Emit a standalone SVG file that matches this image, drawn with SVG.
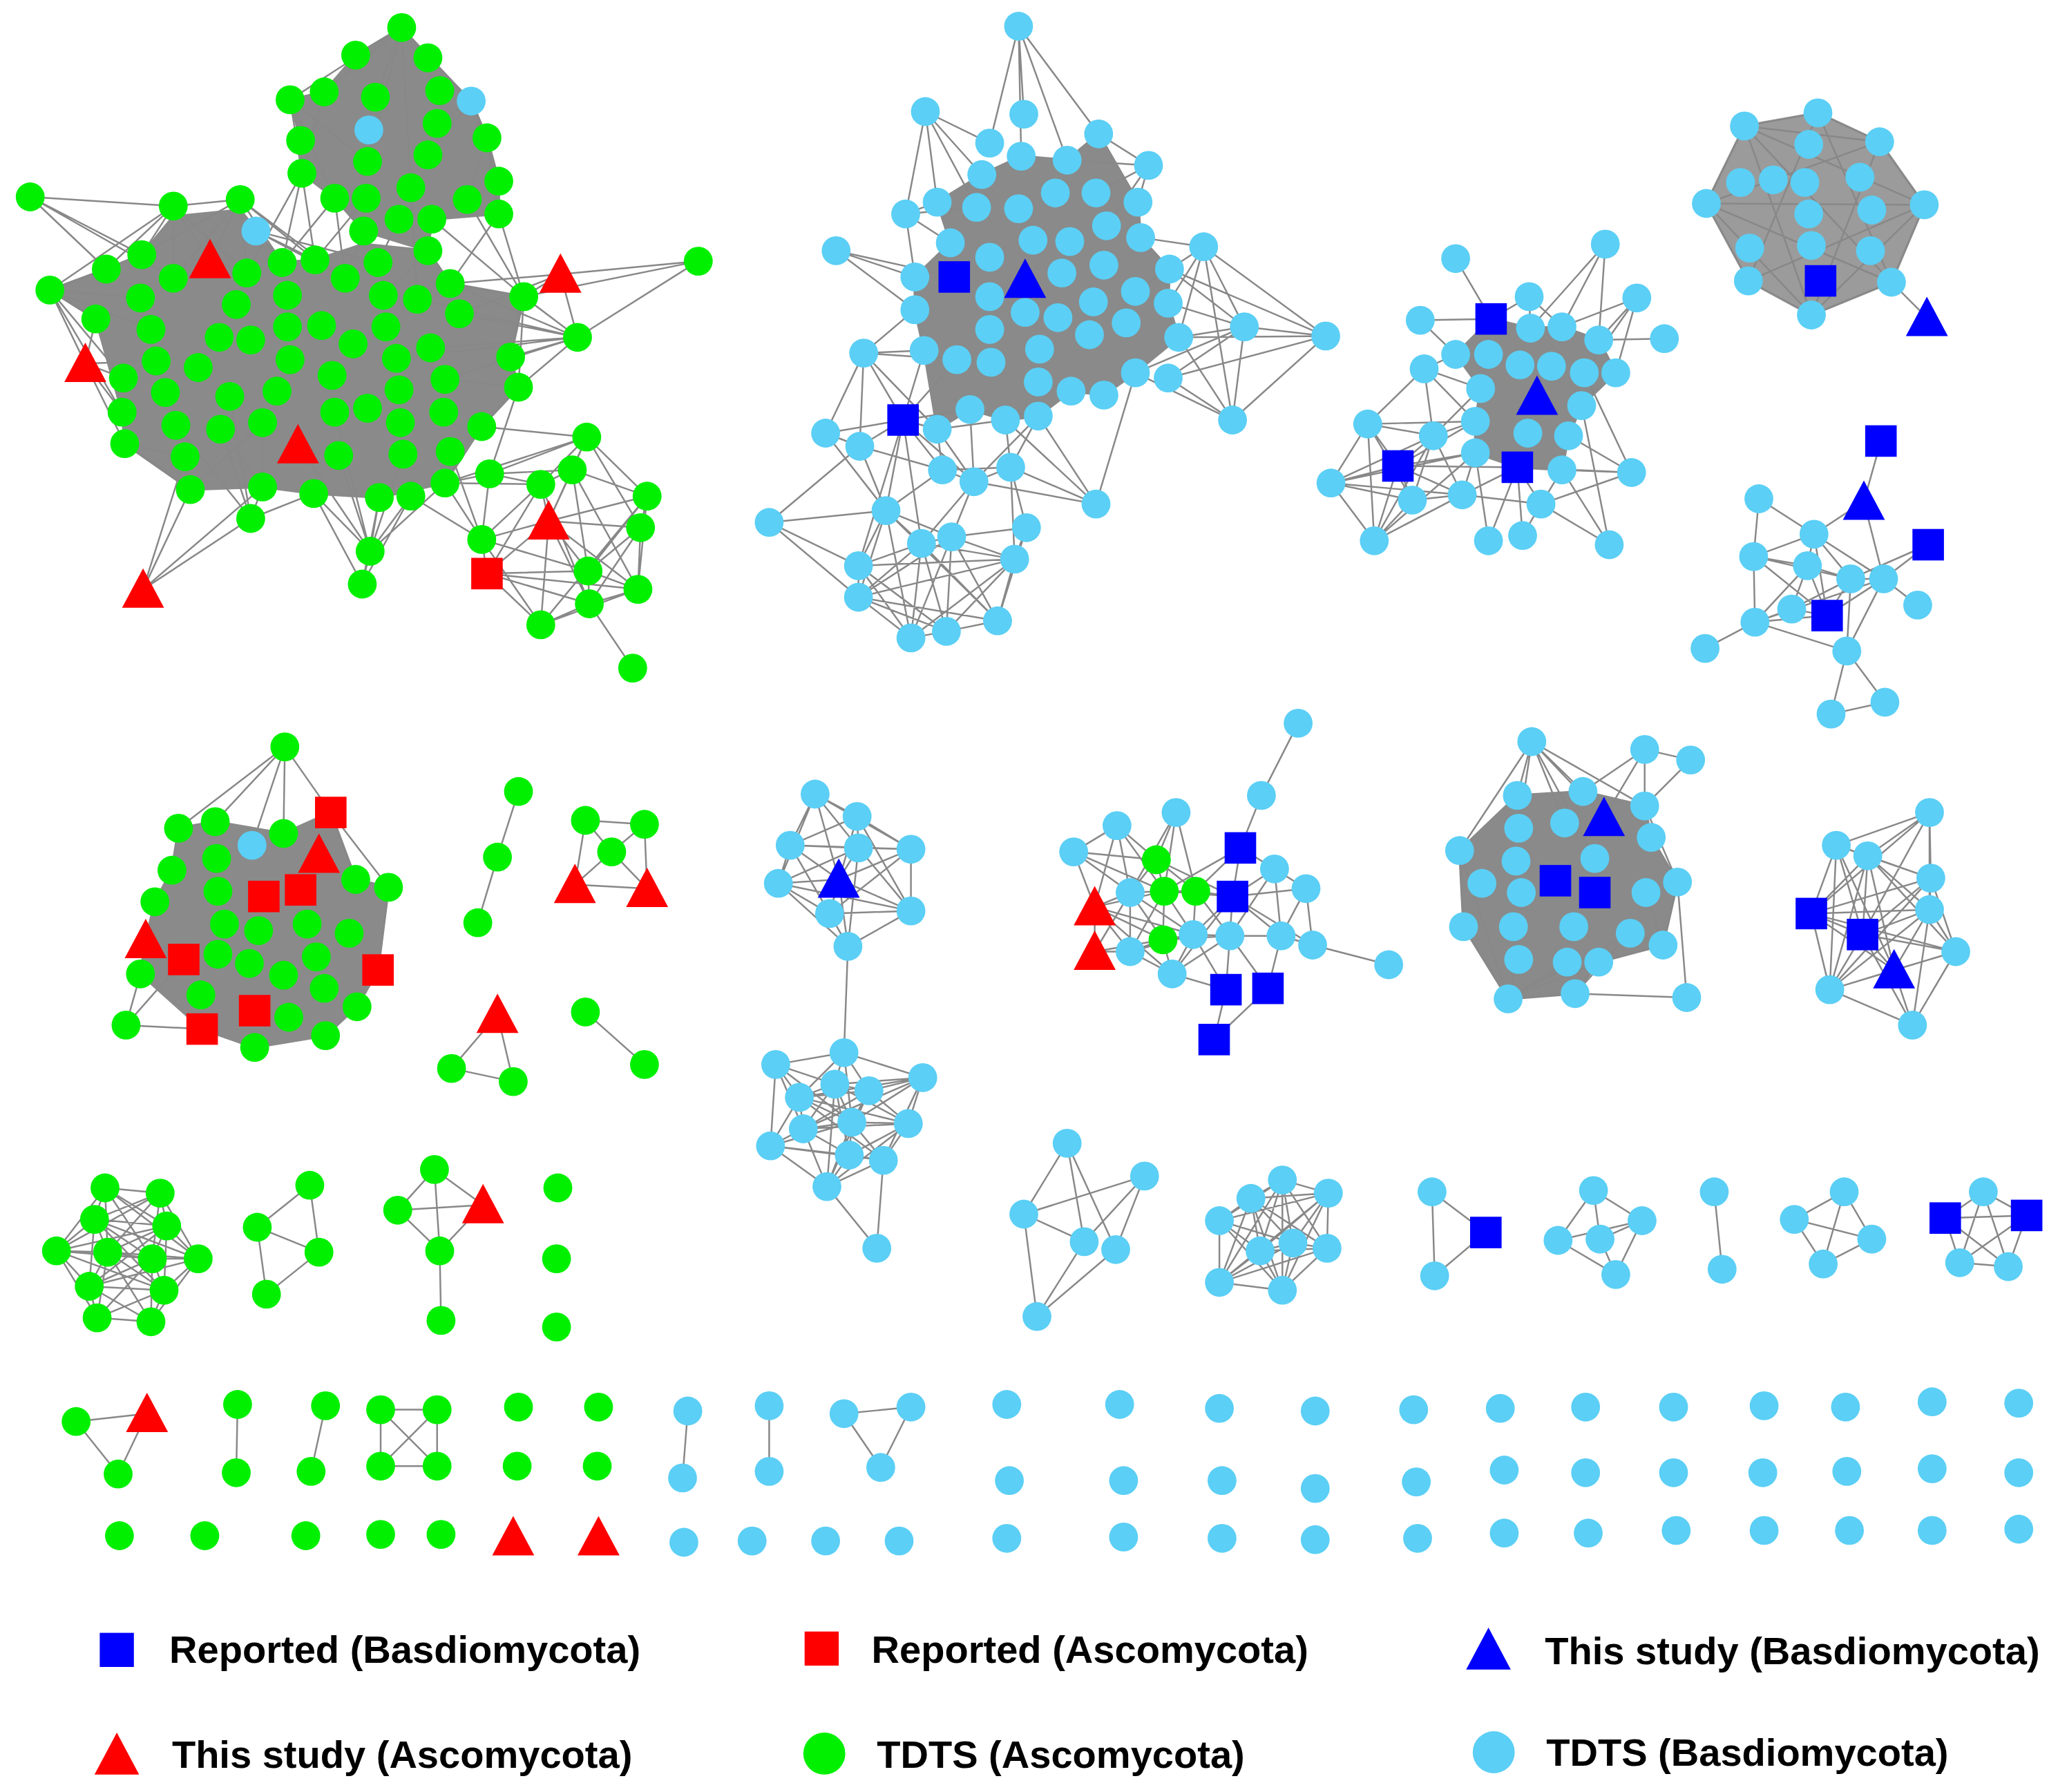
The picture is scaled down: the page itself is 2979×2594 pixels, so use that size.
<svg xmlns="http://www.w3.org/2000/svg" width="2979" height="2594" viewBox="0 0 2979 2594">
<style>
.e{stroke:#888;stroke-width:1.3;fill:none}
.m{fill:#8a8a8a;stroke:#8a8a8a;stroke-width:2;stroke-linejoin:round}
.g{fill:#00f000}
.b{fill:#5bcff5}
.r{fill:#f00}
.u{fill:#00f}
.t{font-family:"Liberation Sans",Arial,sans-serif;font-weight:bold;font-size:29.5px;fill:#000}
</style>
<defs>
<rect id="S" x="-12" y="-12" width="24" height="24"/>
<polygon id="T" points="0,-16 -16,14 16,14"/>
</defs>
<rect width="2979" height="2594" fill="#fff"/>
<g transform="scale(1.9)">
<g id="connectors">
<polygon class="m" points="221,76 247,70 271,42 306,21 326,44 359,77 371,105 380,138 380,163 329,167 326,191 277,176 255,151 230,132 229,107"/>
<polygon class="m" points="38,221 81,205 108,194 132,165 183,160 215,200 240,198 277,186 326,191 343,216 399,226 389,272 395,295 367,325 339,368 289,379 239,376 200,371 145,373 95,338 93,314 73,243"/>
<polygon class="m" points="714,154 748,133 778,119 813,122 837,102 867,154 869,181 891,205 890,231 898,257 865,284 841,301 816,298 791,317 766,320 739,312 714,327 704,267 697,236 697,211 724,185"/>
<polygon class="m" points="1109,270 1136,243 1166,250 1190,249 1218,259 1231,284 1205,309 1195,332 1190,358 1156,356 1124,345 1124,321 1128,296"/>
<polygon class="m" opacity="0.85" points="1329,96 1385,86 1432,108 1466,156 1441,215 1380,240 1332,214 1300,155"/>
<polygon class="m" points="136,631 164,626 216,635 252,619 271,670 296,676 288,739 272,767 248,789 194,798 154,784 107,742 111,716 118,687 131,663"/>
<polygon class="m" points="1156,606 1206,603 1253,614 1258,638 1278,672 1267,720 1218,733 1200,757 1149,761 1115,706 1112,648"/>
<path class="e" d="M306 21L271 42M306 21L326 44M306 21L247 70M306 21L286 74M306 21L335 69M306 21L221 76M306 21L280 123M306 21L313 143M306 21L359 77M359 77L371 105M359 77L380 138M359 77L333 94M359 77L326 118M371 105L380 138M371 105L380 163M371 105L356 152M221 76L229 107M221 76L230 132M221 76L255 151M221 76L280 123M230 132L240 198M230 132L215 200M255 151L215 200M255 151L263 212M277 176L263 212M277 176L288 200M304 167L288 200M326 191L343 216M329 167L399 226M380 163L399 226M356 152L399 226M326 191L292 225M230 132L188 208M247 70L230 132M279 151L240 198M313 143L318 228M380 163L343 216"/>
<path class="e" d="M23 150L132 157M23 150L108 194M23 150L81 205M23 150L132 212M132 157L38 221M132 157L81 205M132 157L160 198M132 157L108 194M132 157L183 152M132 157L132 212M132 157L188 208M183 152L160 198M183 152L188 208M183 152L215 200M183 152L240 198M183 152L132 212M183 152L108 194M183 152L263 212M195 176L240 198M195 176L215 200M195 176L263 212M195 176L288 200M38 221L81 205M38 221L73 243M38 221L107 227M38 221L65 277M38 221L94 288M38 221L93 314M38 221L115 251M65 277L94 288M65 277L93 314M65 277L73 243M65 277L95 338M65 277L119 275M532 199L427 209M532 199L440 257M532 199L399 226M427 209L399 226M427 209L440 257M427 209L343 216M427 209L350 239M440 257L399 226M440 257L389 272M440 257L395 295M440 257L328 265M440 257L350 239M440 257L343 216M440 257L339 289M440 257L318 228M440 257L302 273M399 226L343 216M399 226L389 272M399 226L395 295M389 272L339 289M395 295L339 289M395 295L367 325M109 449L145 373M109 449L191 395M109 449L200 371M109 449L141 348M191 395L200 371M191 395L175 302M191 395L168 327M191 395L134 324M191 395L239 376M200 371L168 327M200 371L200 322M282 420L239 376M282 420L255 314M282 420L289 379M282 420L313 378M282 420L258 347M282 420L227 339M282 420L307 346M282 420L339 368M276 445L282 420M276 445L239 376M276 445L313 378M276 445L289 379M145 373L141 348M145 373L95 338M145 373L200 322M95 338L141 348"/>
<path class="e" d="M447 333L436 358M447 333L493 378M447 333L412 369M447 333L373 361M447 333L367 325M447 333L339 368M447 333L418 397M447 333L488 402M436 358L412 369M436 358L493 378M436 358L418 397M436 358L448 435M436 358L486 449M412 369L418 397M412 369L367 411M412 369L371 437M412 369L449 460M493 378L488 402M493 378L418 397M493 378L448 435M493 378L486 449M493 378L412 476M418 397L367 411M418 397L371 437M418 397L448 435M418 397L449 460M418 397L412 476M418 397L488 402M418 397L486 449M367 411L371 437M367 411L448 435M367 411L412 476M367 411L339 368M367 411L373 361M371 437L448 435M371 437L412 476M371 437L449 460M371 437L486 449M448 435L486 449M448 435L449 460M448 435L488 402M488 402L486 449M488 402L449 460M486 449L449 460M449 460L412 476M449 460L482 509M412 476L486 449M373 361L412 369M373 361L436 358M343 344L367 411M313 378L367 411M339 368L412 369M373 361L395 295M373 361L339 368"/>
<path class="e" d="M776 20L754 109M776 20L780 87M776 20L813 122M776 20L837 102M776 20L778 119M705 85L754 109M705 85L690 163M705 85L714 154M705 85L748 133M705 85L744 158M637 191L697 211M637 191L727 211M637 191L697 236M690 163L714 154M690 163L724 185M690 163L697 211M690 163L744 158M917 188L869 181M917 188L891 205M917 188L890 231M917 188L948 249M917 188L1010 256M917 188L939 320M917 188L865 222M917 188L898 257M875 126L867 154M875 126L837 102M875 126L843 172M875 126L813 122M875 126L835 147M948 249L890 231M948 249L898 257M948 249L1010 256M948 249L939 320M948 249L891 205M948 249L890 288M948 249L865 284M1010 256L898 257M1010 256L890 288M1010 256L939 320M1010 256L891 205M939 320L890 288M939 320L898 257M939 320L865 284M835 384L865 284M835 384L766 320M835 384L770 356M835 384L742 367M835 384L791 317"/>
<path class="e" d="M658 269L688 320M658 269L629 330M658 269L655 340M658 269L704 267M658 269L697 236M658 269L714 327M658 269L729 274M629 330L688 320M629 330L655 340M629 330L675 389M688 320L655 340M688 320L714 327M688 320L739 312M688 320L718 358M688 320L742 367M688 320L675 389M688 320L702 414M688 320L654 431M688 320L729 274M688 320L704 267M655 340L586 398M655 340L675 389M655 340L718 358M586 398L675 389M586 398L654 431M586 398L654 455M714 327L718 358M714 327L742 367M739 312L742 367M766 320L770 356M791 317L770 356M791 317L742 367M718 358L742 367M718 358L675 389M742 367L770 356M742 367L725 409M742 367L702 414M770 356L782 402M770 356L773 426M675 389L702 414M675 389L654 431M675 389L654 455M675 389L725 409M675 389L760 473M675 389L694 486M702 414L725 409M702 414L654 431M702 414L654 455M702 414L694 486M702 414L721 481M702 414L760 473M702 414L773 426M725 409L773 426M725 409L782 402M725 409L760 473M725 409L721 481M725 409L694 486M725 409L654 455M654 431L654 455M654 431L694 486M654 431L721 481M654 431L773 426M654 455L694 486M654 455L721 481M654 455L760 473M773 426L760 473M773 426L721 481M773 426L694 486M782 402L773 426M782 402L760 473M694 486L721 481M721 481L760 473M654 455L773 426M714 327L766 320M739 312L791 317M718 358L770 356"/>
<path class="e" d="M1109 197L1136 243M1082 244L1109 270M1082 244L1136 243M1223 186L1166 250M1223 186L1190 249M1223 186L1218 259M1247 227L1190 249M1247 227L1218 259M1247 227L1207 284M1247 227L1231 284M1268 258L1218 259M1165 226L1166 250M1165 226L1136 243M1165 226L1190 249M1085 281L1109 270M1085 281L1128 296M1085 281L1092 332M1085 281L1124 321M1042 323L1092 332M1042 323L1065 355M1042 323L1014 368M1042 323L1047 412M1042 323L1085 281M1042 323L1124 321M1042 323L1076 381M1014 368L1065 355M1014 368L1047 412M1014 368L1076 381M1014 368L1114 377M1014 368L1092 332M1014 368L1124 345M1065 355L1092 332M1065 355L1076 381M1065 355L1047 412M1065 355L1114 377M1065 355L1124 345M1065 355L1156 356M1065 355L1124 321M1047 412L1076 381M1047 412L1114 377M1047 412L1092 332M1047 412L1124 345M1076 381L1114 377M1076 381L1092 332M1114 377L1124 345M1114 377L1156 356M1114 377L1174 384M1114 377L1092 332M1134 412L1156 356M1134 412L1124 345M1160 408L1156 356M1160 408L1174 384M1174 384L1156 356M1174 384L1190 358M1174 384L1243 360M1174 384L1226 415M1226 415L1190 358M1226 415L1205 309M1243 360L1190 358M1243 360L1195 332M1243 360L1156 356M1243 360L1207 284M1218 259L1231 284M1092 332L1124 321M1092 332L1128 296"/>
<path class="e" d="M1329 96L1385 86M1385 86L1432 108M1432 108L1466 156M1466 156L1441 215M1441 215L1380 240M1380 240L1332 214M1332 214L1300 155M1300 155L1329 96M1329 96L1432 108M1329 96L1441 215M1385 86L1332 214M1385 86L1441 215M1466 156L1300 155M1466 156L1332 214M1466 156L1329 96M1300 155L1441 215M1300 155L1432 108M1380 240L1329 96M1380 240L1432 108M1380 240L1466 156M1380 240L1300 155M1441 215L1468 242"/>
<path class="e" d="M1433 336L1420 382M1420 382L1382 407M1420 382L1435 441M1340 380L1382 407M1340 380L1336 424M1382 407L1336 424M1382 407L1377 431M1382 407L1410 441M1382 407L1435 441M1382 407L1392 469M1469 415L1435 441M1469 415L1410 441M1336 424L1337 474M1336 424L1377 431M1336 424L1392 469M1336 424L1410 441M1377 431L1337 474M1377 431L1392 469M1377 431L1410 441M1377 431L1365 464M1410 441L1435 441M1410 441L1392 469M1410 441L1407 496M1410 441L1365 464M1435 441L1461 461M1435 441L1392 469M1435 441L1407 496M1435 441L1337 474M1365 464L1337 474M1365 464L1392 469M1337 474L1299 494M1337 474L1407 496M1337 474L1392 469M1407 496L1395 544M1407 496L1436 535M1395 544L1436 535"/>
<path class="e" d="M217 569L164 626M217 569L192 644M217 569L216 635M217 569L252 619M217 569L136 631M252 619L296 676M252 619L271 670M96 781L107 742M96 781L154 784M96 781L140 731M136 631L164 626M296 676L288 739M271 670L296 676"/>
<path class="e" d="M395 603L379 653M379 653L364 703M446 625L491 628M446 625L466 649M491 628L466 649M466 649L438 674M466 649L493 677M446 625L438 674M491 628L493 677M438 674L493 677M379 773L344 814M379 773L391 824M344 814L391 824M446 771L491 811"/>
<path class="e" d="M621 605L653 622M621 605L602 644M621 605L654 646M621 605L639 670M621 605L694 647M621 605L593 673M653 622L694 647M653 622L602 644M653 622L654 646M653 622L694 694M653 622L632 696M602 644L654 646M602 644L593 673M602 644L639 670M602 644L694 647M602 644L632 696M654 646L694 647M654 646L593 673M654 646L694 694M654 646L639 670M654 646L646 721M694 647L694 694M694 647L639 670M694 647L632 696M593 673L639 670M593 673L632 696M593 673L646 721M593 673L694 694M639 670L632 696M639 670L694 694M639 670L646 721M632 696L646 721M632 696L694 694M694 694L646 721M646 721L643 802"/>
<path class="e" d="M643 802L591 811M643 802L703 821M643 802L636 826M643 802L662 831M643 802L609 836M643 802L649 855M591 811L609 836M591 811L612 860M591 811L587 873M591 811L636 826M591 811L649 855M703 821L662 831M703 821L692 856M703 821L673 884M703 821L609 836M703 821L636 826M703 821L649 855M703 821L612 860M636 826L662 831M636 826L609 836M636 826L612 860M636 826L649 855M636 826L692 856M636 826L647 880M636 826L630 904M662 831L609 836M662 831L649 855M662 831L692 856M662 831L612 860M662 831L630 904M609 836L612 860M609 836L587 873M609 836L649 855M609 836L692 856M609 836L673 884M612 860L649 855M612 860L587 873M612 860L647 880M612 860L630 904M612 860L692 856M649 855L692 856M649 855L647 880M649 855L673 884M649 855L630 904M649 855L587 873M692 856L673 884M692 856L647 880M692 856L630 904M587 873L647 880M587 873L630 904M587 873L673 884M647 880L673 884M647 880L630 904M673 884L630 904M673 884L668 951M630 904L668 951"/>
<path class="e" d="M989 551L961 606M961 606L945 646M851 629L818 649M851 629L881 655M851 629L861 680M851 629L887 679M851 629L834 691M896 619L881 655M896 619L887 679M896 619L911 679M896 619L861 680M818 649L881 655M818 649L861 680M818 649L834 691M818 649L887 679M945 646L939 683M945 646L911 679M945 646L887 679M945 646L971 662M881 655L887 679M881 655L911 679M881 655L861 680M881 655L939 683M971 662L995 677M971 662L939 683M971 662L937 713M971 662L976 713M995 677L939 683M995 677L976 713M995 677L1000 720M861 680L887 679M861 680L834 691M861 680L834 725M861 680L909 712M861 680L861 725M861 680L886 716M887 679L911 679M887 679L909 712M887 679L939 683M887 679L886 716M887 679L834 691M887 679L861 725M911 679L939 683M911 679L909 712M911 679L937 713M939 683L937 713M939 683L909 712M939 683L976 713M939 683L893 742M939 683L1000 720M834 691L834 725M834 691L886 716M834 691L909 712M834 691L861 725M834 691L893 742M834 725L861 725M834 725L886 716M834 725L909 712M861 725L886 716M861 725L893 742M861 725L909 712M886 716L909 712M886 716L893 742M886 716L937 713M909 712L937 713M909 712L893 742M909 712L934 754M937 713L976 713M937 713L934 754M937 713L966 753M937 713L893 742M976 713L1000 720M976 713L966 753M1000 720L1058 735M893 742L934 754M934 754L925 792M966 753L925 792"/>
<path class="e" d="M813 871L780 925M813 871L826 946M813 871L850 952M780 925L872 896M780 925L826 946M872 896L826 946M872 896L850 952M780 925L790 1003M826 946L790 1003M850 952L790 1003"/>
<path class="e" d="M977 899L953 913M977 899L1012 909M977 899L929 930M977 899L960 953M977 899L985 947M977 899L1011 951M977 899L977 983M977 899L929 977M953 913L1012 909M953 913L929 930M953 913L960 953M953 913L985 947M953 913L1011 951M953 913L929 977M953 913L977 983M1012 909L929 930M1012 909L960 953M1012 909L985 947M1012 909L1011 951M1012 909L929 977M1012 909L977 983M929 930L960 953M929 930L985 947M929 930L929 977M929 930L977 983M960 953L985 947M960 953L1011 951M960 953L929 977M960 953L977 983M985 947L1011 951M985 947L929 977M985 947L977 983M1011 951L977 983M1011 951L929 977M929 977L977 983"/>
<path class="e" d="M1167 565L1156 606M1167 565L1206 603M1167 565L1112 648M1167 565L1157 631M1167 565L1192 627M1167 565L1222 623M1167 565L1253 614M1167 565L1215 654M1253 571L1288 579M1253 571L1206 603M1253 571L1253 614M1253 571L1222 623M1288 579L1253 614M1112 648L1149 761M1112 648L1115 706M1115 706L1149 761M1149 761L1200 757M1200 757L1285 760M1285 760L1278 672M1149 761L1157 731M1149 761L1194 733M1149 761L1218 733M1149 761L1242 711M1200 757L1218 733M1200 757L1242 711M1278 672L1258 638M1278 672L1267 720M1278 672L1253 614M1267 720L1242 711M1267 720L1218 733M1267 720L1254 680"/>
<path class="e" d="M1470 619L1399 644M1470 619L1423 652M1470 619L1471 669M1470 619L1470 693M1470 619L1419 712M1470 619L1380 696M1399 644L1423 652M1399 644L1380 696M1399 644L1394 754M1399 644L1471 669M1399 644L1419 712M1399 644L1443 739M1423 652L1471 669M1423 652L1470 693M1423 652L1380 696M1423 652L1419 712M1423 652L1490 725M1423 652L1443 739M1423 652L1394 754M1471 669L1470 693M1471 669L1380 696M1471 669L1419 712M1471 669L1394 754M1471 669L1490 725M1470 693L1380 696M1470 693L1419 712M1470 693L1490 725M1470 693L1443 739M1470 693L1394 754M1470 693L1457 781M1380 696L1419 712M1380 696L1394 754M1380 696L1490 725M1380 696L1443 739M1419 712L1490 725M1419 712L1443 739M1419 712L1394 754M1419 712L1457 781M1490 725L1443 739M1490 725L1457 781M1490 725L1394 754M1443 739L1394 754M1443 739L1457 781M1394 754L1457 781"/>
<path class="e" d="M80 905L122 909M80 905L72 929M80 905L127 934M80 905L82 954M80 905L116 959M80 905L151 959M80 905L43 953M122 909L72 929M122 909L127 934M122 909L82 954M122 909L116 959M122 909L151 959M122 909L43 953M72 929L127 934M72 929L43 953M72 929L82 954M72 929L116 959M72 929L68 980M72 929L125 983M72 929L151 959M127 934L82 954M127 934L116 959M127 934L151 959M127 934L125 983M127 934L68 980M127 934L43 953M43 953L82 954M43 953L68 980M43 953L116 959M43 953L74 1004M43 953L125 983M82 954L116 959M82 954L151 959M82 954L68 980M82 954L125 983M82 954L74 1004M82 954L115 1007M116 959L151 959M116 959L68 980M116 959L125 983M116 959L74 1004M116 959L115 1007M151 959L125 983M151 959L115 1007M151 959L68 980M68 980L125 983M68 980L74 1004M68 980L115 1007M125 983L74 1004M125 983L115 1007M74 1004L115 1007"/>
<path class="e" d="M236 903L196 935M236 903L243 954M196 935L243 954M196 935L203 986M243 954L203 986M331 891L303 922M331 891L368 918M331 891L335 953M303 922L368 918M303 922L335 953M368 918L335 953M335 953L336 1006"/>
<path class="e" d="M1091 908L1132 939M1132 939L1093 972M1091 908L1093 972M1214 907L1187 945M1214 907L1219 944M1214 907L1251 930M1251 930L1219 944M1251 930L1187 945M1251 930L1231 971M1187 945L1231 971M1219 944L1231 971M1306 908L1312 967M1405 908L1367 929M1405 908L1426 944M1405 908L1389 963M1367 929L1426 944M1367 929L1389 963M1426 944L1389 963M1482 928L1544 926M1511 908L1482 928M1511 908L1544 926M1511 908L1493 962M1511 908L1530 965M1482 928L1530 965M1544 926L1493 962M1482 928L1493 962M1544 926L1530 965M1493 962L1530 965"/>
<path class="e" d="M58 1083L112 1077M58 1083L90 1123M112 1077L90 1123M181 1070L180 1122M248 1071L237 1121M290 1074L333 1074M290 1074L290 1117M333 1074L333 1117M290 1117L333 1117M290 1074L333 1117M333 1074L290 1117M524 1075L520 1126M586 1071L586 1121M643 1077L694 1072M643 1077L671 1118M694 1072L671 1118"/>
</g>
<g id="nodes">
<g id="a1"><circle class="g" cx="306" cy="21" r="11"/></g>
<g id="a2"><circle class="g" cx="271" cy="42" r="11"/></g>
<g id="a3"><circle class="g" cx="326" cy="44" r="11"/></g>
<g id="a4"><circle class="g" cx="221" cy="76" r="11"/></g>
<g id="a5"><circle class="g" cx="247" cy="70" r="11"/></g>
<g id="a6"><circle class="g" cx="286" cy="74" r="11"/></g>
<g id="a7"><circle class="g" cx="335" cy="69" r="11"/></g>
<g id="a8"><circle class="g" cx="333" cy="94" r="11"/></g>
<g id="a9"><circle class="g" cx="229" cy="107" r="11"/></g>
<g id="a10"><circle class="g" cx="371" cy="105" r="11"/></g>
<g id="a11"><circle class="g" cx="280" cy="123" r="11"/></g>
<g id="a12"><circle class="g" cx="326" cy="118" r="11"/></g>
<g id="a13"><circle class="g" cx="230" cy="132" r="11"/></g>
<g id="a14"><circle class="g" cx="380" cy="138" r="11"/></g>
<g id="a15"><circle class="g" cx="313" cy="143" r="11"/></g>
<g id="a16"><circle class="g" cx="255" cy="151" r="11"/></g>
<g id="a17"><circle class="g" cx="279" cy="151" r="11"/></g>
<g id="a18"><circle class="g" cx="356" cy="152" r="11"/></g>
<g id="a19"><circle class="g" cx="380" cy="163" r="11"/></g>
<g id="a20"><circle class="g" cx="304" cy="167" r="11"/></g>
<g id="a21"><circle class="g" cx="329" cy="167" r="11"/></g>
<g id="a22"><circle class="g" cx="277" cy="176" r="11"/></g>
<g id="a23"><circle class="g" cx="326" cy="191" r="11"/></g>
<g id="a24"><circle class="b" cx="359" cy="77" r="11"/></g>
<g id="a25"><circle class="b" cx="281" cy="99" r="11"/></g>
<g id="a26"><circle class="b" cx="195" cy="176" r="11"/></g>
<g id="a27"><circle class="g" cx="23" cy="150" r="11"/></g>
<g id="a28"><circle class="g" cx="132" cy="157" r="11"/></g>
<g id="a29"><circle class="g" cx="183" cy="152" r="11"/></g>
<g id="a30"><circle class="g" cx="38" cy="221" r="11"/></g>
<g id="a31"><circle class="g" cx="81" cy="205" r="11"/></g>
<g id="a32"><circle class="g" cx="108" cy="194" r="11"/></g>
<g id="a33"><circle class="g" cx="132" cy="212" r="11"/></g>
<g id="a34"><circle class="g" cx="188" cy="208" r="11"/></g>
<g id="a35"><circle class="g" cx="215" cy="200" r="11"/></g>
<g id="a36"><circle class="g" cx="240" cy="198" r="11"/></g>
<g id="a37"><circle class="g" cx="263" cy="212" r="11"/></g>
<g id="a38"><circle class="g" cx="288" cy="200" r="11"/></g>
<g id="a39"><circle class="g" cx="73" cy="243" r="11"/></g>
<g id="a40"><circle class="g" cx="107" cy="227" r="11"/></g>
<g id="a41"><circle class="g" cx="180" cy="232" r="11"/></g>
<g id="a42"><circle class="g" cx="219" cy="225" r="11"/></g>
<g id="a43"><circle class="g" cx="292" cy="225" r="11"/></g>
<g id="a44"><circle class="g" cx="318" cy="228" r="11"/></g>
<g id="a45"><circle class="g" cx="343" cy="216" r="11"/></g>
<g id="a46"><circle class="g" cx="399" cy="226" r="11"/></g>
<g id="a47"><circle class="g" cx="532" cy="199" r="11"/></g>
<g id="a48"><circle class="g" cx="115" cy="251" r="11"/></g>
<g id="a49"><circle class="g" cx="167" cy="257" r="11"/></g>
<g id="a50"><circle class="g" cx="191" cy="259" r="11"/></g>
<g id="a51"><circle class="g" cx="219" cy="249" r="11"/></g>
<g id="a52"><circle class="g" cx="245" cy="248" r="11"/></g>
<g id="a53"><circle class="g" cx="269" cy="262" r="11"/></g>
<g id="a54"><circle class="g" cx="294" cy="249" r="11"/></g>
<g id="a55"><circle class="g" cx="350" cy="239" r="11"/></g>
<g id="a56"><circle class="g" cx="440" cy="257" r="11"/></g>
<g id="a57"><circle class="g" cx="94" cy="288" r="11"/></g>
<g id="a58"><circle class="g" cx="119" cy="275" r="11"/></g>
<g id="a59"><circle class="g" cx="151" cy="280" r="11"/></g>
<g id="a60"><circle class="g" cx="221" cy="274" r="11"/></g>
<g id="a61"><circle class="g" cx="253" cy="286" r="11"/></g>
<g id="a62"><circle class="g" cx="302" cy="273" r="11"/></g>
<g id="a63"><circle class="g" cx="328" cy="265" r="11"/></g>
<g id="a64"><circle class="g" cx="389" cy="272" r="11"/></g>
<g id="a65"><circle class="g" cx="93" cy="314" r="11"/></g>
<g id="a66"><circle class="g" cx="126" cy="299" r="11"/></g>
<g id="a67"><circle class="g" cx="175" cy="302" r="11"/></g>
<g id="a68"><circle class="g" cx="211" cy="298" r="11"/></g>
<g id="a69"><circle class="g" cx="280" cy="311" r="11"/></g>
<g id="a70"><circle class="g" cx="304" cy="297" r="11"/></g>
<g id="a71"><circle class="g" cx="339" cy="289" r="11"/></g>
<g id="a72"><circle class="g" cx="395" cy="295" r="11"/></g>
<g id="a73"><circle class="g" cx="95" cy="338" r="11"/></g>
<g id="a74"><circle class="g" cx="134" cy="324" r="11"/></g>
<g id="a75"><circle class="g" cx="168" cy="327" r="11"/></g>
<g id="a76"><circle class="g" cx="200" cy="322" r="11"/></g>
<g id="a77"><circle class="g" cx="255" cy="314" r="11"/></g>
<g id="a78"><circle class="g" cx="305" cy="322" r="11"/></g>
<g id="a79"><circle class="g" cx="338" cy="314" r="11"/></g>
<g id="a80"><circle class="g" cx="367" cy="325" r="11"/></g>
<g id="a81"><circle class="g" cx="141" cy="348" r="11"/></g>
<g id="a82"><circle class="g" cx="258" cy="347" r="11"/></g>
<g id="a83"><circle class="g" cx="307" cy="346" r="11"/></g>
<g id="a84"><circle class="g" cx="343" cy="344" r="11"/></g>
<g id="a85"><circle class="g" cx="145" cy="373" r="11"/></g>
<g id="a86"><circle class="g" cx="200" cy="371" r="11"/></g>
<g id="a87"><circle class="g" cx="239" cy="376" r="11"/></g>
<g id="a88"><circle class="g" cx="289" cy="379" r="11"/></g>
<g id="a89"><circle class="g" cx="313" cy="378" r="11"/></g>
<g id="a90"><circle class="g" cx="339" cy="368" r="11"/></g>
<g id="a91"><circle class="g" cx="373" cy="361" r="11"/></g>
<g id="a92"><circle class="g" cx="191" cy="395" r="11"/></g>
<g id="a93"><circle class="g" cx="447" cy="333" r="11"/></g>
<g id="a94"><circle class="g" cx="436" cy="358" r="11"/></g>
<g id="a95"><circle class="g" cx="412" cy="369" r="11"/></g>
<g id="a96"><circle class="g" cx="493" cy="378" r="11"/></g>
<g id="a97"><circle class="g" cx="367" cy="411" r="11"/></g>
<g id="a98"><circle class="g" cx="488" cy="402" r="11"/></g>
<g id="a99"><circle class="g" cx="448" cy="435" r="11"/></g>
<g id="a100"><circle class="g" cx="486" cy="449" r="11"/></g>
<g id="a101"><circle class="g" cx="449" cy="460" r="11"/></g>
<g id="a102"><circle class="g" cx="412" cy="476" r="11"/></g>
<g id="a103"><circle class="g" cx="482" cy="509" r="11"/></g>
<g id="a104"><circle class="g" cx="282" cy="420" r="11"/></g>
<g id="a105"><circle class="g" cx="276" cy="445" r="11"/></g>
<g id="a106"><use href="#T" class="r" x="160" y="198"/></g>
<g id="a107"><use href="#T" class="r" x="427" y="209"/></g>
<g id="a108"><use href="#T" class="r" x="65" y="277"/></g>
<g id="a109"><use href="#T" class="r" x="227" y="339"/></g>
<g id="a110"><use href="#T" class="r" x="418" y="397"/></g>
<g id="a111"><use href="#T" class="r" x="109" y="449"/></g>
<g id="a112"><use href="#S" class="r" x="371" y="437"/></g>
<g id="b1"><circle class="b" cx="776" cy="20" r="11"/></g>
<g id="b2"><circle class="b" cx="705" cy="85" r="11"/></g>
<g id="b3"><circle class="b" cx="780" cy="87" r="11"/></g>
<g id="b4"><circle class="b" cx="754" cy="109" r="11"/></g>
<g id="b5"><circle class="b" cx="778" cy="119" r="11"/></g>
<g id="b6"><circle class="b" cx="837" cy="102" r="11"/></g>
<g id="b7"><circle class="b" cx="813" cy="122" r="11"/></g>
<g id="b8"><circle class="b" cx="875" cy="126" r="11"/></g>
<g id="b9"><circle class="b" cx="748" cy="133" r="11"/></g>
<g id="b10"><circle class="b" cx="714" cy="154" r="11"/></g>
<g id="b11"><circle class="b" cx="744" cy="158" r="11"/></g>
<g id="b12"><circle class="b" cx="776" cy="159" r="11"/></g>
<g id="b13"><circle class="b" cx="804" cy="147" r="11"/></g>
<g id="b14"><circle class="b" cx="835" cy="147" r="11"/></g>
<g id="b15"><circle class="b" cx="867" cy="154" r="11"/></g>
<g id="b16"><circle class="b" cx="690" cy="163" r="11"/></g>
<g id="b17"><circle class="b" cx="637" cy="191" r="11"/></g>
<g id="b18"><circle class="b" cx="724" cy="185" r="11"/></g>
<g id="b19"><circle class="b" cx="754" cy="196" r="11"/></g>
<g id="b20"><circle class="b" cx="787" cy="183" r="11"/></g>
<g id="b21"><circle class="b" cx="815" cy="184" r="11"/></g>
<g id="b22"><circle class="b" cx="843" cy="172" r="11"/></g>
<g id="b23"><circle class="b" cx="869" cy="181" r="11"/></g>
<g id="b24"><circle class="b" cx="917" cy="188" r="11"/></g>
<g id="b25"><circle class="b" cx="697" cy="211" r="11"/></g>
<g id="b26"><circle class="b" cx="754" cy="226" r="11"/></g>
<g id="b27"><circle class="b" cx="809" cy="208" r="11"/></g>
<g id="b28"><circle class="b" cx="841" cy="202" r="11"/></g>
<g id="b29"><circle class="b" cx="891" cy="205" r="11"/></g>
<g id="b30"><circle class="b" cx="865" cy="222" r="11"/></g>
<g id="b31"><circle class="b" cx="890" cy="231" r="11"/></g>
<g id="b32"><circle class="b" cx="697" cy="236" r="11"/></g>
<g id="b33"><circle class="b" cx="781" cy="238" r="11"/></g>
<g id="b34"><circle class="b" cx="806" cy="242" r="11"/></g>
<g id="b35"><circle class="b" cx="833" cy="230" r="11"/></g>
<g id="b36"><circle class="b" cx="948" cy="249" r="11"/></g>
<g id="b37"><circle class="b" cx="1010" cy="256" r="11"/></g>
<g id="b38"><circle class="b" cx="858" cy="246" r="11"/></g>
<g id="b39"><circle class="b" cx="658" cy="269" r="11"/></g>
<g id="b40"><circle class="b" cx="704" cy="267" r="11"/></g>
<g id="b41"><circle class="b" cx="729" cy="274" r="11"/></g>
<g id="b42"><circle class="b" cx="754" cy="251" r="11"/></g>
<g id="b43"><circle class="b" cx="755" cy="276" r="11"/></g>
<g id="b44"><circle class="b" cx="792" cy="266" r="11"/></g>
<g id="b45"><circle class="b" cx="830" cy="255" r="11"/></g>
<g id="b46"><circle class="b" cx="898" cy="257" r="11"/></g>
<g id="b47"><circle class="b" cx="865" cy="284" r="11"/></g>
<g id="b48"><circle class="b" cx="890" cy="288" r="11"/></g>
<g id="b49"><circle class="b" cx="791" cy="291" r="11"/></g>
<g id="b50"><circle class="b" cx="816" cy="298" r="11"/></g>
<g id="b51"><circle class="b" cx="841" cy="301" r="11"/></g>
<g id="b52"><circle class="b" cx="939" cy="320" r="11"/></g>
<g id="b53"><circle class="b" cx="629" cy="330" r="11"/></g>
<g id="b54"><circle class="b" cx="655" cy="340" r="11"/></g>
<g id="b55"><circle class="b" cx="739" cy="312" r="11"/></g>
<g id="b56"><circle class="b" cx="714" cy="327" r="11"/></g>
<g id="b57"><circle class="b" cx="766" cy="320" r="11"/></g>
<g id="b58"><circle class="b" cx="791" cy="317" r="11"/></g>
<g id="b59"><circle class="b" cx="718" cy="358" r="11"/></g>
<g id="b60"><circle class="b" cx="742" cy="367" r="11"/></g>
<g id="b61"><circle class="b" cx="770" cy="356" r="11"/></g>
<g id="b62"><circle class="b" cx="835" cy="384" r="11"/></g>
<g id="b63"><circle class="b" cx="586" cy="398" r="11"/></g>
<g id="b64"><circle class="b" cx="675" cy="389" r="11"/></g>
<g id="b65"><circle class="b" cx="782" cy="402" r="11"/></g>
<g id="b66"><circle class="b" cx="702" cy="414" r="11"/></g>
<g id="b67"><circle class="b" cx="725" cy="409" r="11"/></g>
<g id="b68"><circle class="b" cx="654" cy="431" r="11"/></g>
<g id="b69"><circle class="b" cx="773" cy="426" r="11"/></g>
<g id="b70"><circle class="b" cx="654" cy="455" r="11"/></g>
<g id="b71"><circle class="b" cx="760" cy="473" r="11"/></g>
<g id="b72"><circle class="b" cx="694" cy="486" r="11"/></g>
<g id="b73"><circle class="b" cx="721" cy="481" r="11"/></g>
<g id="b74"><use href="#S" class="u" x="727" y="211"/></g>
<g id="b75"><use href="#S" class="u" x="688" y="320"/></g>
<g id="b76"><use href="#T" class="u" x="781" y="213"/></g>
<g id="c1"><circle class="b" cx="1109" cy="197" r="11"/></g>
<g id="c2"><circle class="b" cx="1223" cy="186" r="11"/></g>
<g id="c3"><circle class="b" cx="1165" cy="226" r="11"/></g>
<g id="c4"><circle class="b" cx="1247" cy="227" r="11"/></g>
<g id="c5"><circle class="b" cx="1082" cy="244" r="11"/></g>
<g id="c6"><circle class="b" cx="1166" cy="250" r="11"/></g>
<g id="c7"><circle class="b" cx="1190" cy="249" r="11"/></g>
<g id="c8"><circle class="b" cx="1218" cy="259" r="11"/></g>
<g id="c9"><circle class="b" cx="1268" cy="258" r="11"/></g>
<g id="c10"><circle class="b" cx="1109" cy="270" r="11"/></g>
<g id="c11"><circle class="b" cx="1134" cy="270" r="11"/></g>
<g id="c12"><circle class="b" cx="1158" cy="278" r="11"/></g>
<g id="c13"><circle class="b" cx="1182" cy="279" r="11"/></g>
<g id="c14"><circle class="b" cx="1207" cy="284" r="11"/></g>
<g id="c15"><circle class="b" cx="1231" cy="284" r="11"/></g>
<g id="c16"><circle class="b" cx="1085" cy="281" r="11"/></g>
<g id="c17"><circle class="b" cx="1128" cy="296" r="11"/></g>
<g id="c18"><circle class="b" cx="1205" cy="309" r="11"/></g>
<g id="c19"><circle class="b" cx="1042" cy="323" r="11"/></g>
<g id="c20"><circle class="b" cx="1124" cy="321" r="11"/></g>
<g id="c21"><circle class="b" cx="1092" cy="332" r="11"/></g>
<g id="c22"><circle class="b" cx="1164" cy="330" r="11"/></g>
<g id="c23"><circle class="b" cx="1195" cy="332" r="11"/></g>
<g id="c24"><circle class="b" cx="1124" cy="345" r="11"/></g>
<g id="c25"><circle class="b" cx="1190" cy="358" r="11"/></g>
<g id="c26"><circle class="b" cx="1243" cy="360" r="11"/></g>
<g id="c27"><circle class="b" cx="1014" cy="368" r="11"/></g>
<g id="c28"><circle class="b" cx="1076" cy="381" r="11"/></g>
<g id="c29"><circle class="b" cx="1114" cy="377" r="11"/></g>
<g id="c30"><circle class="b" cx="1174" cy="384" r="11"/></g>
<g id="c31"><circle class="b" cx="1047" cy="412" r="11"/></g>
<g id="c32"><circle class="b" cx="1134" cy="412" r="11"/></g>
<g id="c33"><circle class="b" cx="1160" cy="408" r="11"/></g>
<g id="c34"><circle class="b" cx="1226" cy="415" r="11"/></g>
<g id="c35"><use href="#S" class="u" x="1136" y="243"/></g>
<g id="c36"><use href="#S" class="u" x="1065" y="355"/></g>
<g id="c37"><use href="#S" class="u" x="1156" y="356"/></g>
<g id="c38"><use href="#T" class="u" x="1171" y="302"/></g>
<g id="d1"><circle class="b" cx="1385" cy="86" r="11"/></g>
<g id="d2"><circle class="b" cx="1329" cy="96" r="11"/></g>
<g id="d3"><circle class="b" cx="1432" cy="108" r="11"/></g>
<g id="d4"><circle class="b" cx="1378" cy="110" r="11"/></g>
<g id="d5"><circle class="b" cx="1326" cy="139" r="11"/></g>
<g id="d6"><circle class="b" cx="1351" cy="137" r="11"/></g>
<g id="d7"><circle class="b" cx="1375" cy="139" r="11"/></g>
<g id="d8"><circle class="b" cx="1417" cy="135" r="11"/></g>
<g id="d9"><circle class="b" cx="1300" cy="155" r="11"/></g>
<g id="d10"><circle class="b" cx="1466" cy="156" r="11"/></g>
<g id="d11"><circle class="b" cx="1426" cy="160" r="11"/></g>
<g id="d12"><circle class="b" cx="1378" cy="163" r="11"/></g>
<g id="d13"><circle class="b" cx="1333" cy="189" r="11"/></g>
<g id="d14"><circle class="b" cx="1380" cy="187" r="11"/></g>
<g id="d15"><circle class="b" cx="1425" cy="191" r="11"/></g>
<g id="d16"><circle class="b" cx="1332" cy="214" r="11"/></g>
<g id="d17"><circle class="b" cx="1441" cy="215" r="11"/></g>
<g id="d18"><circle class="b" cx="1380" cy="240" r="11"/></g>
<g id="d19"><use href="#S" class="u" x="1387" y="214"/></g>
<g id="d20"><use href="#T" class="u" x="1468" y="242"/></g>
<g id="e1"><circle class="b" cx="1340" cy="380" r="11"/></g>
<g id="e2"><circle class="b" cx="1382" cy="407" r="11"/></g>
<g id="e3"><circle class="b" cx="1336" cy="424" r="11"/></g>
<g id="e4"><circle class="b" cx="1377" cy="431" r="11"/></g>
<g id="e5"><circle class="b" cx="1410" cy="441" r="11"/></g>
<g id="e6"><circle class="b" cx="1435" cy="441" r="11"/></g>
<g id="e7"><circle class="b" cx="1461" cy="461" r="11"/></g>
<g id="e8"><circle class="b" cx="1365" cy="464" r="11"/></g>
<g id="e9"><circle class="b" cx="1337" cy="474" r="11"/></g>
<g id="e10"><circle class="b" cx="1299" cy="494" r="11"/></g>
<g id="e11"><circle class="b" cx="1407" cy="496" r="11"/></g>
<g id="e12"><circle class="b" cx="1395" cy="544" r="11"/></g>
<g id="e13"><circle class="b" cx="1436" cy="535" r="11"/></g>
<g id="e14"><use href="#S" class="u" x="1433" y="336"/></g>
<g id="e15"><use href="#T" class="u" x="1420" y="382"/></g>
<g id="e16"><use href="#S" class="u" x="1469" y="415"/></g>
<g id="e17"><use href="#S" class="u" x="1392" y="469"/></g>
<g id="f1"><circle class="g" cx="217" cy="569" r="11"/></g>
<g id="f2"><circle class="g" cx="136" cy="631" r="11"/></g>
<g id="f3"><circle class="g" cx="164" cy="626" r="11"/></g>
<g id="f4"><circle class="g" cx="216" cy="635" r="11"/></g>
<g id="f5"><circle class="g" cx="131" cy="663" r="11"/></g>
<g id="f6"><circle class="g" cx="165" cy="654" r="11"/></g>
<g id="f7"><circle class="g" cx="271" cy="670" r="11"/></g>
<g id="f8"><circle class="g" cx="296" cy="676" r="11"/></g>
<g id="f9"><circle class="g" cx="118" cy="687" r="11"/></g>
<g id="f10"><circle class="g" cx="166" cy="679" r="11"/></g>
<g id="f11"><circle class="g" cx="171" cy="704" r="11"/></g>
<g id="f12"><circle class="g" cx="197" cy="709" r="11"/></g>
<g id="f13"><circle class="g" cx="234" cy="704" r="11"/></g>
<g id="f14"><circle class="g" cx="266" cy="711" r="11"/></g>
<g id="f15"><circle class="g" cx="166" cy="727" r="11"/></g>
<g id="f16"><circle class="g" cx="190" cy="734" r="11"/></g>
<g id="f17"><circle class="g" cx="241" cy="729" r="11"/></g>
<g id="f18"><circle class="g" cx="107" cy="742" r="11"/></g>
<g id="f19"><circle class="g" cx="216" cy="743" r="11"/></g>
<g id="f20"><circle class="g" cx="247" cy="753" r="11"/></g>
<g id="f21"><circle class="g" cx="153" cy="758" r="11"/></g>
<g id="f22"><circle class="g" cx="272" cy="767" r="11"/></g>
<g id="f23"><circle class="g" cx="96" cy="781" r="11"/></g>
<g id="f24"><circle class="g" cx="220" cy="775" r="11"/></g>
<g id="f25"><circle class="g" cx="248" cy="789" r="11"/></g>
<g id="f26"><circle class="g" cx="194" cy="798" r="11"/></g>
<g id="f27"><circle class="b" cx="192" cy="644" r="11"/></g>
<g id="f28"><use href="#S" class="r" x="252" y="619"/></g>
<g id="f29"><use href="#S" class="r" x="201" y="683"/></g>
<g id="f30"><use href="#S" class="r" x="229" y="678"/></g>
<g id="f31"><use href="#S" class="r" x="140" y="731"/></g>
<g id="f32"><use href="#S" class="r" x="288" y="739"/></g>
<g id="f33"><use href="#S" class="r" x="154" y="784"/></g>
<g id="f34"><use href="#S" class="r" x="194" y="770"/></g>
<g id="f35"><use href="#T" class="r" x="243" y="651"/></g>
<g id="f36"><use href="#T" class="r" x="111" y="716"/></g>
<g id="s1"><circle class="g" cx="395" cy="603" r="11"/></g>
<g id="s2"><circle class="g" cx="379" cy="653" r="11"/></g>
<g id="s3"><circle class="g" cx="364" cy="703" r="11"/></g>
<g id="s4"><circle class="g" cx="446" cy="625" r="11"/></g>
<g id="s5"><circle class="g" cx="491" cy="628" r="11"/></g>
<g id="s6"><circle class="g" cx="466" cy="649" r="11"/></g>
<g id="s7"><use href="#T" class="r" x="438" y="674"/></g>
<g id="s8"><use href="#T" class="r" x="493" y="677"/></g>
<g id="s9"><use href="#T" class="r" x="379" y="773"/></g>
<g id="s10"><circle class="g" cx="344" cy="814" r="11"/></g>
<g id="s11"><circle class="g" cx="391" cy="824" r="11"/></g>
<g id="s12"><circle class="g" cx="446" cy="771" r="11"/></g>
<g id="s13"><circle class="g" cx="491" cy="811" r="11"/></g>
<g id="p1"><circle class="b" cx="621" cy="605" r="11"/></g>
<g id="p2"><circle class="b" cx="653" cy="622" r="11"/></g>
<g id="p3"><circle class="b" cx="602" cy="644" r="11"/></g>
<g id="p4"><circle class="b" cx="654" cy="646" r="11"/></g>
<g id="p5"><circle class="b" cx="694" cy="647" r="11"/></g>
<g id="p6"><circle class="b" cx="593" cy="673" r="11"/></g>
<g id="p7"><circle class="b" cx="632" cy="696" r="11"/></g>
<g id="p8"><circle class="b" cx="694" cy="694" r="11"/></g>
<g id="p9"><circle class="b" cx="646" cy="721" r="11"/></g>
<g id="p10"><use href="#T" class="u" x="639" y="670"/></g>
<g id="p11"><circle class="b" cx="643" cy="802" r="11"/></g>
<g id="p12"><circle class="b" cx="591" cy="811" r="11"/></g>
<g id="p13"><circle class="b" cx="703" cy="821" r="11"/></g>
<g id="p14"><circle class="b" cx="636" cy="826" r="11"/></g>
<g id="p15"><circle class="b" cx="662" cy="831" r="11"/></g>
<g id="p16"><circle class="b" cx="609" cy="836" r="11"/></g>
<g id="p17"><circle class="b" cx="612" cy="860" r="11"/></g>
<g id="p18"><circle class="b" cx="649" cy="855" r="11"/></g>
<g id="p19"><circle class="b" cx="692" cy="856" r="11"/></g>
<g id="p20"><circle class="b" cx="587" cy="873" r="11"/></g>
<g id="p21"><circle class="b" cx="647" cy="880" r="11"/></g>
<g id="p22"><circle class="b" cx="673" cy="884" r="11"/></g>
<g id="p23"><circle class="b" cx="630" cy="904" r="11"/></g>
<g id="p24"><circle class="b" cx="668" cy="951" r="11"/></g>
<g id="h1"><circle class="b" cx="989" cy="551" r="11"/></g>
<g id="h2"><circle class="b" cx="961" cy="606" r="11"/></g>
<g id="h3"><circle class="b" cx="851" cy="629" r="11"/></g>
<g id="h4"><circle class="b" cx="896" cy="619" r="11"/></g>
<g id="h5"><circle class="b" cx="818" cy="649" r="11"/></g>
<g id="h6"><circle class="b" cx="971" cy="662" r="11"/></g>
<g id="h7"><circle class="b" cx="861" cy="680" r="11"/></g>
<g id="h8"><circle class="b" cx="995" cy="677" r="11"/></g>
<g id="h9"><circle class="b" cx="909" cy="712" r="11"/></g>
<g id="h10"><circle class="b" cx="937" cy="713" r="11"/></g>
<g id="h11"><circle class="b" cx="976" cy="713" r="11"/></g>
<g id="h12"><circle class="b" cx="1000" cy="720" r="11"/></g>
<g id="h13"><circle class="b" cx="1058" cy="735" r="11"/></g>
<g id="h14"><circle class="b" cx="861" cy="725" r="11"/></g>
<g id="h15"><circle class="b" cx="893" cy="742" r="11"/></g>
<g id="h16"><circle class="g" cx="881" cy="655" r="11"/></g>
<g id="h17"><circle class="g" cx="887" cy="679" r="11"/></g>
<g id="h18"><circle class="g" cx="911" cy="679" r="11"/></g>
<g id="h19"><circle class="g" cx="886" cy="716" r="11"/></g>
<g id="h20"><use href="#S" class="u" x="945" y="646"/></g>
<g id="h21"><use href="#S" class="u" x="939" y="683"/></g>
<g id="h22"><use href="#S" class="u" x="934" y="754"/></g>
<g id="h23"><use href="#S" class="u" x="966" y="753"/></g>
<g id="h24"><use href="#S" class="u" x="925" y="792"/></g>
<g id="h25"><use href="#T" class="r" x="834" y="691"/></g>
<g id="h26"><use href="#T" class="r" x="834" y="725"/></g>
<g id="i1"><circle class="b" cx="813" cy="871" r="11"/></g>
<g id="i2"><circle class="b" cx="872" cy="896" r="11"/></g>
<g id="i3"><circle class="b" cx="780" cy="925" r="11"/></g>
<g id="i4"><circle class="b" cx="826" cy="946" r="11"/></g>
<g id="i5"><circle class="b" cx="850" cy="952" r="11"/></g>
<g id="i6"><circle class="b" cx="790" cy="1003" r="11"/></g>
<g id="j1"><circle class="b" cx="977" cy="899" r="11"/></g>
<g id="j2"><circle class="b" cx="953" cy="913" r="11"/></g>
<g id="j3"><circle class="b" cx="1012" cy="909" r="11"/></g>
<g id="j4"><circle class="b" cx="929" cy="930" r="11"/></g>
<g id="j5"><circle class="b" cx="960" cy="953" r="11"/></g>
<g id="j6"><circle class="b" cx="985" cy="947" r="11"/></g>
<g id="j7"><circle class="b" cx="1011" cy="951" r="11"/></g>
<g id="j8"><circle class="b" cx="929" cy="977" r="11"/></g>
<g id="j9"><circle class="b" cx="977" cy="983" r="11"/></g>
<g id="k1"><circle class="b" cx="1167" cy="565" r="11"/></g>
<g id="k2"><circle class="b" cx="1253" cy="571" r="11"/></g>
<g id="k3"><circle class="b" cx="1288" cy="579" r="11"/></g>
<g id="k4"><circle class="b" cx="1156" cy="606" r="11"/></g>
<g id="k5"><circle class="b" cx="1206" cy="603" r="11"/></g>
<g id="k6"><circle class="b" cx="1253" cy="614" r="11"/></g>
<g id="k7"><circle class="b" cx="1157" cy="631" r="11"/></g>
<g id="k8"><circle class="b" cx="1192" cy="627" r="11"/></g>
<g id="k9"><circle class="b" cx="1258" cy="638" r="11"/></g>
<g id="k10"><circle class="b" cx="1112" cy="648" r="11"/></g>
<g id="k11"><circle class="b" cx="1155" cy="656" r="11"/></g>
<g id="k12"><circle class="b" cx="1215" cy="654" r="11"/></g>
<g id="k13"><circle class="b" cx="1129" cy="673" r="11"/></g>
<g id="k14"><circle class="b" cx="1159" cy="680" r="11"/></g>
<g id="k15"><circle class="b" cx="1254" cy="680" r="11"/></g>
<g id="k16"><circle class="b" cx="1278" cy="672" r="11"/></g>
<g id="k17"><circle class="b" cx="1115" cy="706" r="11"/></g>
<g id="k18"><circle class="b" cx="1153" cy="706" r="11"/></g>
<g id="k19"><circle class="b" cx="1199" cy="706" r="11"/></g>
<g id="k20"><circle class="b" cx="1242" cy="711" r="11"/></g>
<g id="k21"><circle class="b" cx="1267" cy="720" r="11"/></g>
<g id="k22"><circle class="b" cx="1157" cy="731" r="11"/></g>
<g id="k23"><circle class="b" cx="1194" cy="733" r="11"/></g>
<g id="k24"><circle class="b" cx="1218" cy="733" r="11"/></g>
<g id="k25"><circle class="b" cx="1149" cy="761" r="11"/></g>
<g id="k26"><circle class="b" cx="1200" cy="757" r="11"/></g>
<g id="k27"><circle class="b" cx="1285" cy="760" r="11"/></g>
<g id="k28"><use href="#T" class="u" x="1222" y="623"/></g>
<g id="k29"><use href="#S" class="u" x="1185" y="671"/></g>
<g id="k30"><use href="#S" class="u" x="1215" y="680"/></g>
<g id="l1"><circle class="b" cx="1470" cy="619" r="11"/></g>
<g id="l2"><circle class="b" cx="1399" cy="644" r="11"/></g>
<g id="l3"><circle class="b" cx="1423" cy="652" r="11"/></g>
<g id="l4"><circle class="b" cx="1471" cy="669" r="11"/></g>
<g id="l5"><circle class="b" cx="1470" cy="693" r="11"/></g>
<g id="l6"><circle class="b" cx="1490" cy="725" r="11"/></g>
<g id="l7"><circle class="b" cx="1394" cy="754" r="11"/></g>
<g id="l8"><circle class="b" cx="1457" cy="781" r="11"/></g>
<g id="l9"><use href="#S" class="u" x="1380" y="696"/></g>
<g id="l10"><use href="#S" class="u" x="1419" y="712"/></g>
<g id="l11"><use href="#T" class="u" x="1443" y="739"/></g>
<g id="m1"><circle class="g" cx="80" cy="905" r="11"/></g>
<g id="m2"><circle class="g" cx="122" cy="909" r="11"/></g>
<g id="m3"><circle class="g" cx="72" cy="929" r="11"/></g>
<g id="m4"><circle class="g" cx="127" cy="934" r="11"/></g>
<g id="m5"><circle class="g" cx="43" cy="953" r="11"/></g>
<g id="m6"><circle class="g" cx="82" cy="954" r="11"/></g>
<g id="m7"><circle class="g" cx="116" cy="959" r="11"/></g>
<g id="m8"><circle class="g" cx="151" cy="959" r="11"/></g>
<g id="m9"><circle class="g" cx="68" cy="980" r="11"/></g>
<g id="m10"><circle class="g" cx="125" cy="983" r="11"/></g>
<g id="m11"><circle class="g" cx="74" cy="1004" r="11"/></g>
<g id="m12"><circle class="g" cx="115" cy="1007" r="11"/></g>
<g id="n1"><circle class="g" cx="236" cy="903" r="11"/></g>
<g id="n2"><circle class="g" cx="196" cy="935" r="11"/></g>
<g id="n3"><circle class="g" cx="243" cy="954" r="11"/></g>
<g id="n4"><circle class="g" cx="203" cy="986" r="11"/></g>
<g id="o1"><circle class="g" cx="331" cy="891" r="11"/></g>
<g id="o2"><circle class="g" cx="303" cy="922" r="11"/></g>
<g id="o3"><use href="#T" class="r" x="368" y="918"/></g>
<g id="o4"><circle class="g" cx="335" cy="953" r="11"/></g>
<g id="o5"><circle class="g" cx="336" cy="1006" r="11"/></g>
<g id="o6"><circle class="g" cx="425" cy="905" r="11"/></g>
<g id="o7"><circle class="g" cx="424" cy="959" r="11"/></g>
<g id="o8"><circle class="g" cx="424" cy="1011" r="11"/></g>
<g id="q1"><circle class="b" cx="1091" cy="908" r="11"/></g>
<g id="q2"><use href="#S" class="u" x="1132" y="939"/></g>
<g id="q3"><circle class="b" cx="1093" cy="972" r="11"/></g>
<g id="q4"><circle class="b" cx="1214" cy="907" r="11"/></g>
<g id="q5"><circle class="b" cx="1251" cy="930" r="11"/></g>
<g id="q6"><circle class="b" cx="1187" cy="945" r="11"/></g>
<g id="q7"><circle class="b" cx="1219" cy="944" r="11"/></g>
<g id="q8"><circle class="b" cx="1231" cy="971" r="11"/></g>
<g id="q9"><circle class="b" cx="1306" cy="908" r="11"/></g>
<g id="q10"><circle class="b" cx="1312" cy="967" r="11"/></g>
<g id="q11"><circle class="b" cx="1405" cy="908" r="11"/></g>
<g id="q12"><circle class="b" cx="1367" cy="929" r="11"/></g>
<g id="q13"><circle class="b" cx="1426" cy="944" r="11"/></g>
<g id="q14"><circle class="b" cx="1389" cy="963" r="11"/></g>
<g id="q15"><circle class="b" cx="1511" cy="908" r="11"/></g>
<g id="q16"><use href="#S" class="u" x="1482" y="928"/></g>
<g id="q17"><use href="#S" class="u" x="1544" y="926"/></g>
<g id="q18"><circle class="b" cx="1493" cy="962" r="11"/></g>
<g id="q19"><circle class="b" cx="1530" cy="965" r="11"/></g>
<g id="w1"><circle class="g" cx="58" cy="1083" r="11"/></g>
<g id="w2"><use href="#T" class="r" x="112" y="1077"/></g>
<g id="w3"><circle class="g" cx="90" cy="1123" r="11"/></g>
<g id="w4"><circle class="g" cx="181" cy="1070" r="11"/></g>
<g id="w5"><circle class="g" cx="180" cy="1122" r="11"/></g>
<g id="w6"><circle class="g" cx="248" cy="1071" r="11"/></g>
<g id="w7"><circle class="g" cx="237" cy="1121" r="11"/></g>
<g id="w8"><circle class="g" cx="290" cy="1074" r="11"/></g>
<g id="w9"><circle class="g" cx="333" cy="1074" r="11"/></g>
<g id="w10"><circle class="g" cx="290" cy="1117" r="11"/></g>
<g id="w11"><circle class="g" cx="333" cy="1117" r="11"/></g>
<g id="w12"><circle class="g" cx="395" cy="1072" r="11"/></g>
<g id="w13"><circle class="g" cx="456" cy="1072" r="11"/></g>
<g id="w14"><circle class="g" cx="394" cy="1117" r="11"/></g>
<g id="w15"><circle class="g" cx="455" cy="1117" r="11"/></g>
<g id="w16"><circle class="g" cx="91" cy="1170" r="11"/></g>
<g id="w17"><circle class="g" cx="156" cy="1170" r="11"/></g>
<g id="w18"><circle class="g" cx="233" cy="1170" r="11"/></g>
<g id="w19"><circle class="g" cx="290" cy="1169" r="11"/></g>
<g id="w20"><circle class="g" cx="336" cy="1169" r="11"/></g>
<g id="w21"><use href="#T" class="r" x="391" y="1171"/></g>
<g id="w22"><use href="#T" class="r" x="456" y="1171"/></g>
<g id="x1"><circle class="b" cx="524" cy="1075" r="11"/></g>
<g id="x2"><circle class="b" cx="520" cy="1126" r="11"/></g>
<g id="x3"><circle class="b" cx="586" cy="1071" r="11"/></g>
<g id="x4"><circle class="b" cx="586" cy="1121" r="11"/></g>
<g id="x5"><circle class="b" cx="643" cy="1077" r="11"/></g>
<g id="x6"><circle class="b" cx="694" cy="1072" r="11"/></g>
<g id="x7"><circle class="b" cx="671" cy="1118" r="11"/></g>
<g id="x8"><circle class="b" cx="521" cy="1175" r="11"/></g>
<g id="x9"><circle class="b" cx="573" cy="1174" r="11"/></g>
<g id="x10"><circle class="b" cx="629" cy="1174" r="11"/></g>
<g id="x11"><circle class="b" cx="685" cy="1174" r="11"/></g>
<g id="y1"><circle class="b" cx="767" cy="1070" r="11"/></g>
<g id="y2"><circle class="b" cx="853" cy="1070" r="11"/></g>
<g id="y3"><circle class="b" cx="929" cy="1073" r="11"/></g>
<g id="y4"><circle class="b" cx="1002" cy="1075" r="11"/></g>
<g id="y5"><circle class="b" cx="1077" cy="1074" r="11"/></g>
<g id="y6"><circle class="b" cx="1143" cy="1073" r="11"/></g>
<g id="y7"><circle class="b" cx="1208" cy="1072" r="11"/></g>
<g id="y8"><circle class="b" cx="1275" cy="1072" r="11"/></g>
<g id="y9"><circle class="b" cx="1344" cy="1071" r="11"/></g>
<g id="y10"><circle class="b" cx="1406" cy="1072" r="11"/></g>
<g id="y11"><circle class="b" cx="1472" cy="1068" r="11"/></g>
<g id="y12"><circle class="b" cx="1538" cy="1069" r="11"/></g>
<g id="y13"><circle class="b" cx="769" cy="1128" r="11"/></g>
<g id="y14"><circle class="b" cx="856" cy="1128" r="11"/></g>
<g id="y15"><circle class="b" cx="931" cy="1128" r="11"/></g>
<g id="y16"><circle class="b" cx="1002" cy="1134" r="11"/></g>
<g id="y17"><circle class="b" cx="1079" cy="1129" r="11"/></g>
<g id="y18"><circle class="b" cx="1146" cy="1120" r="11"/></g>
<g id="y19"><circle class="b" cx="1208" cy="1122" r="11"/></g>
<g id="y20"><circle class="b" cx="1275" cy="1122" r="11"/></g>
<g id="y21"><circle class="b" cx="1343" cy="1122" r="11"/></g>
<g id="y22"><circle class="b" cx="1407" cy="1121" r="11"/></g>
<g id="y23"><circle class="b" cx="1472" cy="1119" r="11"/></g>
<g id="y24"><circle class="b" cx="1538" cy="1122" r="11"/></g>
<g id="y25"><circle class="b" cx="767" cy="1172" r="11"/></g>
<g id="y26"><circle class="b" cx="856" cy="1171" r="11"/></g>
<g id="y27"><circle class="b" cx="931" cy="1172" r="11"/></g>
<g id="y28"><circle class="b" cx="1002" cy="1173" r="11"/></g>
<g id="y29"><circle class="b" cx="1080" cy="1172" r="11"/></g>
<g id="y30"><circle class="b" cx="1146" cy="1168" r="11"/></g>
<g id="y31"><circle class="b" cx="1210" cy="1168" r="11"/></g>
<g id="y32"><circle class="b" cx="1277" cy="1166" r="11"/></g>
<g id="y33"><circle class="b" cx="1344" cy="1166" r="11"/></g>
<g id="y34"><circle class="b" cx="1409" cy="1166" r="11"/></g>
<g id="y35"><circle class="b" cx="1472" cy="1166" r="11"/></g>
<g id="y36"><circle class="b" cx="1538" cy="1165" r="11"/></g>
</g>
<g id="legend">
<g id="lg1"><rect class="u" x="76" y="1244" width="26" height="26"/><text class="t" x="129" y="1267">Reported (Basdiomycota)</text></g>
<g id="lg2"><rect class="r" x="613" y="1243" width="26" height="26"/><text class="t" x="664" y="1267">Reported (Ascomycota)</text></g>
<g id="lg3"><polygon class="u" points="1134,1240 1117,1272 1151,1272"/><text class="t" x="1177" y="1268">This study (Basdiomycota)</text></g>
<g id="lg4"><polygon class="r" points="89,1320 72,1352 106,1352"/><text class="t" x="131" y="1347">This study (Ascomycota)</text></g>
<g id="lg5"><circle class="g" cx="628" cy="1336" r="16"/><text class="t" x="668" y="1347">TDTS (Ascomycota)</text></g>
<g id="lg6"><circle class="b" cx="1138" cy="1335" r="16"/><text class="t" x="1178" y="1345">TDTS (Basdiomycota)</text></g>
</g>
</g>
</svg>
